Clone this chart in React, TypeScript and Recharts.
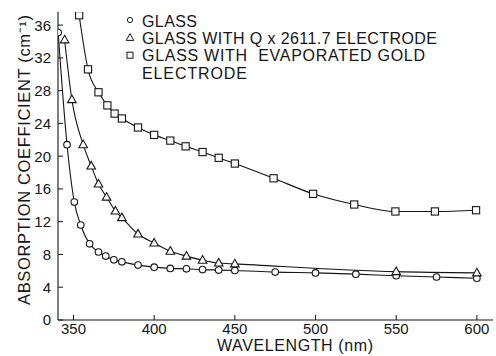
import { LineChart, Line, XAxis, YAxis, Legend } from "recharts";

// wavelength (nm) / absorption coefficient (cm^-1)
const glassWl = [340.5, 346, 350.5, 354.5, 360, 365.5, 370, 375, 380, 390, 400, 410, 420, 430, 440, 450, 475, 500, 525, 550, 575, 600];
const glassAbs = [35.1, 21.4, 14.4, 11.6, 9.3, 8.3, 7.8, 7.35, 7.1, 6.7, 6.45, 6.3, 6.25, 6.15, 6.1, 6.05, 5.85, 5.75, 5.6, 5.4, 5.25, 5.1];

const quartzWl = [344.5, 349, 356, 361, 365.5, 370.5, 376, 380, 390, 400, 410, 420, 430, 440, 450, 550, 600];
const quartzAbs = [34.2, 26.9, 21.4, 18.8, 16.6, 15.0, 13.3, 12.5, 10.5, 9.4, 8.4, 7.8, 7.3, 6.95, 6.85, 5.9, 5.75];

const goldWl = [353.5, 359, 365.5, 371, 375.5, 380, 390, 400, 410, 419.5, 430, 440, 450, 474, 498.5, 524, 549.5, 574, 599.5];
const goldAbs = [37.2, 30.6, 27.8, 26.2, 25.2, 24.6, 23.5, 22.6, 21.9, 21.2, 20.5, 19.8, 19.1, 17.3, 15.4, 14.1, 13.25, 13.25, 13.4];

const xTicks = [350, 400, 450, 500, 550, 600];
const yTicks = [0, 4, 8, 12, 16, 20, 24, 28, 32, 36];

const legendLines = [
  { text: "GLASS", symbol: "circle", width: 55 },
  { text: "GLASS WITH Q x 2611.7 ELECTRODE", symbol: "triangle", width: 295 },
  { text: "GLASS WITH  EVAPORATED GOLD", symbol: "square", width: 283 },
  { text: "ELECTRODE", symbol: "", width: 105 },
];

const FONT = '"Liberation Sans", Arial, sans-serif';
const INK = "#151515";

const toPoints = (wl: number[], abs: number[]) => wl.map((w, i) => ({ wl: w, abs: abs[i] }));

function CircleDot({ cx, cy }: any) {
  if (cx == null || cy == null) return null;
  return <circle cx={cx} cy={cy} r={3.3} fill="#fff" stroke={INK} strokeWidth={1.1} />;
}

function TriangleDot({ cx, cy }: any) {
  if (cx == null || cy == null) return null;
  return (
    <path
      d={`M${cx},${cy - 4.6} L${cx + 4.3},${cy + 3} L${cx - 4.3},${cy + 3} Z`}
      fill="#fff"
      stroke={INK}
      strokeWidth={1.1}
    />
  );
}

function SquareDot({ cx, cy }: any) {
  if (cx == null || cy == null) return null;
  return <rect x={cx - 3.6} y={cy - 3.6} width={7.2} height={7.2} fill="#fff" stroke={INK} strokeWidth={1.1} />;
}

function XTick({ x, y, payload }: any) {
  return (
    <g>
      <line x1={x} x2={x} y1={y} y2={y - 5} stroke={INK} strokeWidth={1} />
      <text x={x} y={y + 14} textAnchor="middle" fontSize={15} fontFamily={FONT} fill={INK}>
        {payload.value}
      </text>
    </g>
  );
}

function YTick({ x, y, payload }: any) {
  return (
    <g>
      <line x1={x} x2={x + 5} y1={y} y2={y} stroke={INK} strokeWidth={1} />
      <text x={x - 7} y={y} dy="0.36em" textAnchor="end" fontSize={15} fontFamily={FONT} fill={INK}>
        {payload.value}
      </text>
    </g>
  );
}

function XLabel() {
  return (
    <text x={295} y={351} textAnchor="middle" fontSize={16} fontFamily={FONT} fill={INK} textLength={156} lengthAdjust="spacing">
      WAVELENGTH (nm)
    </text>
  );
}

function YLabel() {
  return (
    <text
      x={0}
      y={0}
      transform="translate(29.5,160) rotate(-90)"
      textAnchor="middle"
      fontSize={16.5}
      fontFamily={FONT}
      fill={INK}
      textLength={290}
      lengthAdjust="spacing"
    >
      ABSORPTION COEFFICIENT (cm⁻¹)
    </text>
  );
}

function LegendSymbol({ kind, x, y }: { kind: string; x: number; y: number }) {
  if (kind === "circle") return <circle cx={x} cy={y} r={2.6} fill="#fff" stroke={INK} strokeWidth={1} />;
  if (kind === "triangle")
    return <path d={`M${x},${y - 4} L${x + 3.8},${y + 2.8} L${x - 3.8},${y + 2.8} Z`} fill="#fff" stroke={INK} strokeWidth={1} />;
  if (kind === "square") return <rect x={x - 3} y={y - 3} width={6} height={6} fill="#fff" stroke={INK} strokeWidth={1} />;
  return null;
}

function LegendBox() {
  return (
    <svg width={370} height={85} style={{ display: "block" }}>
      {legendLines.map((l, i) => (
        <g key={l.text}>
          <LegendSymbol kind={l.symbol} x={10} y={20 + i * 17.6} />
          <text
            x={22}
            y={26.6 + i * 17.4}
            fontSize={16}
            fontFamily={FONT}
            fill={INK}
            textLength={l.width}
            lengthAdjust="spacing"
            style={{ whiteSpace: "pre" }}
          >
            {l.text}
          </text>
        </g>
      ))}
    </svg>
  );
}

export default function App() {
  return (
    <div style={{ position: "absolute", left: 0, top: 0, width: 496, height: 356, background: "#fff" }}>
      <LineChart width={496} height={356} margin={{ top: 12, right: 3, bottom: 0, left: 0 }}>
        <XAxis
          type="number"
          dataKey="wl"
          domain={[340.4, 610]}
          ticks={xTicks}
          allowDataOverflow
          tickLine={false}
          tickSize={0}
          tickMargin={0}
          tick={<XTick />}
          axisLine={{ stroke: INK, strokeWidth: 1.1 }}
          height={36}
          label={<XLabel />}
        />
        <YAxis
          type="number"
          dataKey="abs"
          domain={[0, 37.6]}
          ticks={yTicks}
          allowDataOverflow
          tickLine={false}
          tickSize={0}
          tickMargin={0}
          tick={<YTick />}
          axisLine={{ stroke: INK, strokeWidth: 1.1 }}
          width={58}
          label={<YLabel />}
        />
        <Legend
          layout="vertical"
          align="center"
          verticalAlign="middle"
          wrapperStyle={{ top: 0, left: 120, width: 370 }}
          content={() => <LegendBox />}
        />
        <Line
          data={toPoints(glassWl, glassAbs)}
          dataKey="abs"
          name="GLASS"
          type="monotone"
          stroke={INK}
          strokeWidth={1.1}
          dot={<CircleDot />}
          activeDot={false}
          isAnimationActive={false}
        />
        <Line
          data={toPoints(quartzWl, quartzAbs)}
          dataKey="abs"
          name="GLASS WITH Q x 2611.7 ELECTRODE"
          type="monotone"
          stroke={INK}
          strokeWidth={1.1}
          dot={<TriangleDot />}
          activeDot={false}
          isAnimationActive={false}
        />
        <Line
          data={toPoints(goldWl, goldAbs)}
          dataKey="abs"
          name="GLASS WITH EVAPORATED GOLD ELECTRODE"
          type="monotone"
          stroke={INK}
          strokeWidth={1.1}
          dot={<SquareDot />}
          activeDot={false}
          isAnimationActive={false}
        />
      </LineChart>
    </div>
  );
}
